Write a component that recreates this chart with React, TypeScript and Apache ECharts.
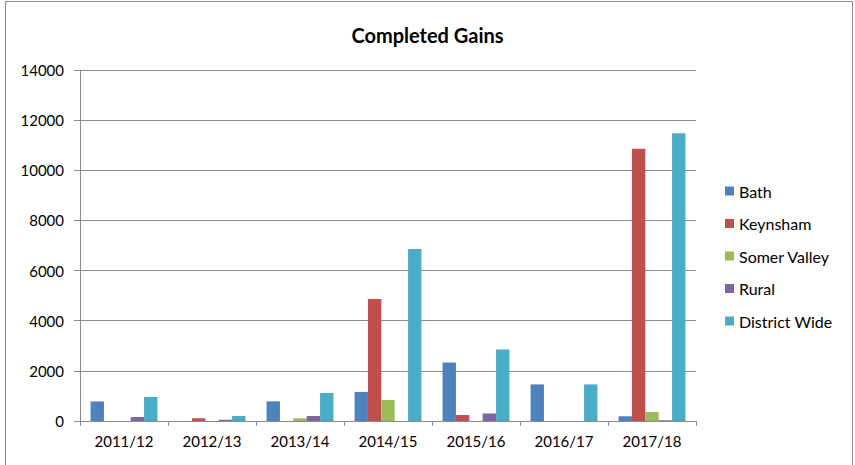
import React, { useEffect, useRef } from "react";
import * as echarts from "echarts";

const categories = ["2011/12", "2012/13", "2013/14", "2014/15", "2015/16", "2016/17", "2017/18"];
const bath = [780, 0, 785, 1160, 2330, 1460, 190];
const keynsham = [0, 110, 0, 4870, 240, 0, 10860];
const somerValley = [0, 0, 110, 840, 0, 0, 360];
const rural = [160, 50, 200, 0, 300, 0, 30];
const districtWide = [960, 200, 1120, 6860, 2850, 1460, 11480];
const yTicks = { min: 0, max: 14000, interval: 2000 };

const FONT = "Lato";

export default function App() {
  const ref = useRef<HTMLDivElement>(null);
  useEffect(() => {
    document.body.style.margin = "0";
    const chart = echarts.init(ref.current!, null, { renderer: "svg" });
    const mk = (name: string, data: number[], color: string) => ({
      name,
      type: "bar",
      data,
      itemStyle: { color },
      barGap: "0%",
      barCategoryGap: "24%",
    });
    chart.setOption({
      animation: false,
      backgroundColor: "#ffffff",
      textStyle: { fontFamily: FONT },
      title: {
        text: "Completed Gains",
        left: "center",
        top: 20,
        textStyle: { fontFamily: FONT, fontSize: 20, fontWeight: "bold", color: "#000" },
      },
      graphic: [
        {
          type: "rect",
          shape: { x: 5.5, y: 1.5, width: 847, height: 470 },
          style: { fill: "none", stroke: "#8a8a8a", lineWidth: 1 },
          silent: true,
        },
      ],
      legend: {
        orient: "vertical",
        left: 725,
        top: 183,
        padding: 0,
        itemWidth: 9,
        itemHeight: 9,
        itemGap: 16.5,
        icon: "rect",
        textStyle: { fontFamily: FONT, fontSize: 16, color: "#000" },
        data: ["Bath", "Keynsham", "Somer Valley", "Rural", "District Wide"],
      },
      grid: { left: 80, right: 159, top: 70, bottom: 44 },
      xAxis: {
        type: "category",
        data: categories,
        axisLine: { lineStyle: { color: "#8a8a8a", width: 1 } },
        axisTick: { show: true, length: 5, lineStyle: { color: "#8a8a8a" } },
        axisLabel: { fontFamily: FONT, fontSize: 15, color: "#000", margin: 12 },
      },
      yAxis: {
        type: "value",
        min: yTicks.min,
        max: yTicks.max,
        interval: yTicks.interval,
        axisLine: { show: true, lineStyle: { color: "#8a8a8a", width: 1 } },
        axisTick: { show: true, length: 6, lineStyle: { color: "#8a8a8a" } },
        axisLabel: {
          fontFamily: FONT,
          fontSize: 15,
          color: "#000",
          margin: 16,
          formatter: (v: number) => String(v),
        },
        splitLine: { lineStyle: { color: "#8a8a8a", width: 1 } },
      },
      series: [
        mk("Bath", bath, "#4F81BD"),
        mk("Keynsham", keynsham, "#C0504D"),
        mk("Somer Valley", somerValley, "#9BBB59"),
        mk("Rural", rural, "#8064A2"),
        mk("District Wide", districtWide, "#4BACC6"),
      ],
    });
    return () => chart.dispose();
  }, []);
  return (
    <div
      ref={ref}
      style={{ position: "absolute", left: 0, top: 0, width: 855, height: 465 }}
    />
  );
}
